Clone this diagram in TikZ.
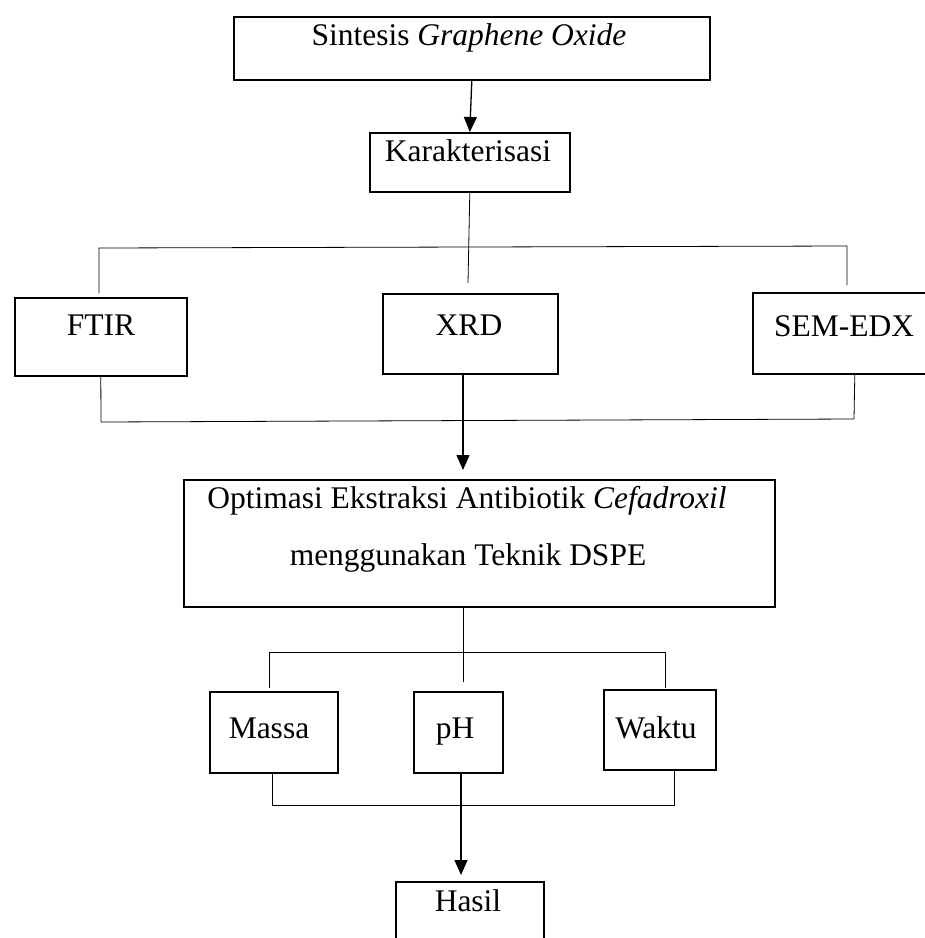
\documentclass[tikz,border=0pt]{standalone}
\usepackage{fontspec}
\setmainfont{Liberation Serif}
\usetikzlibrary{arrows.meta}
\begin{document}
\begin{tikzpicture}[x=1pt,y=-1pt,
  box/.style={draw=black, line width=1.6pt, rectangle, inner sep=0pt, anchor=north west},
  txt/.style={inner sep=0pt, anchor=base, font=\fontsize{31.5}{36}\selectfont},
  thin/.style={draw=black, line width=0.8pt},
  arr/.style={draw=black, line width=1.3pt, -{Triangle[length=15pt,width=13pt]}}]
\useasboundingbox (0,0) rectangle (925,938);
\clip (0,0) rectangle (925,938);
% boxes
\node[box, minimum width=476pt, minimum height=63pt] (sint) at (233,16) {};
\node[box, minimum width=200pt, minimum height=59pt] (kar) at (369,132) {};
\node[box, minimum width=172pt, minimum height=78pt] (ftir) at (14,297) {};
\node[box, minimum width=175pt, minimum height=80pt] (xrd) at (382,293) {};
\node[box, minimum width=204pt, minimum height=81pt] (sem) at (752,292) {};
\node[box, minimum width=591pt, minimum height=127pt] (opt) at (183,479) {};
\node[box, minimum width=128pt, minimum height=81pt] (massa) at (209,691) {};
\node[box, minimum width=89pt, minimum height=81pt] (ph) at (413,691) {};
\node[box, minimum width=112pt, minimum height=80pt] (waktu) at (603,689) {};
\node[box, minimum width=148pt, minimum height=100pt] (hasil) at (395,881) {};
% texts
\node[txt] (tsint) at (469,45) {Sintesis \textit{Graphene Oxide}};
\node[txt] (tkar) at (468,161) {Karakterisasi};
\node[txt] (tftir) at (101,335) {FTIR};
\node[txt] (txrd) at (469,335) {XRD};
\node[txt] (tsem) at (844,336) {SEM-EDX};
\node[txt] (topt1) at (467,508) {Optimasi Ekstraksi Antibiotik \textit{Cefadroxil}};
\node[txt] (topt2) at (468,565) {menggunakan Teknik DSPE};
\node[txt] (tmassa) at (269,738) {Massa};
\node[txt] (tph) at (455,738) {pH};
\node[txt] (twaktu) at (656,738) {Waktu};
\node[txt] (thasil) at (468,911) {Hasil};
% coordinates
\coordinate (k1) at (468,283);
\coordinate (b1l) at (99,248);
\coordinate (b1r) at (847,246);
\coordinate (b1le) at (99,293);
\coordinate (b1re) at (847,285);
\coordinate (b2l) at (101,422);
\coordinate (b2r) at (854,419);
\coordinate (xs) at (463,373);
\coordinate (xa) at (463,470);
\coordinate (os) at (463,606);
\coordinate (o1) at (463,682);
\coordinate (b3l) at (269,652);
\coordinate (b3r) at (665,652);
\coordinate (b3le) at (269,688);
\coordinate (b3re) at (665,688);
\coordinate (ms) at (272,772);
\coordinate (b4l) at (272,805);
\coordinate (b4r) at (674,805);
\coordinate (ws) at (674,769);
\coordinate (ps) at (461,772);
\coordinate (pa) at (461,875);
% connectors
\draw[arr] (sint.south) -- (kar.north);
\draw[thin] (kar.south) -- (k1);
\draw[thin] (b1le) -- (b1l) -- (b1r) -- (b1re);
\draw[thin] (ftir.south) -- (b2l) -- (b2r) -- (sem.south);
\draw[arr] (xs) -- (xa);
\draw[thin] (os) -- (o1);
\draw[thin] (b3le) -- (b3l) -- (b3r) -- (b3re);
\draw[thin] (ms) -- (b4l) -- (b4r) -- (ws);
\draw[arr] (ps) -- (pa);
\end{tikzpicture}
\end{document}
